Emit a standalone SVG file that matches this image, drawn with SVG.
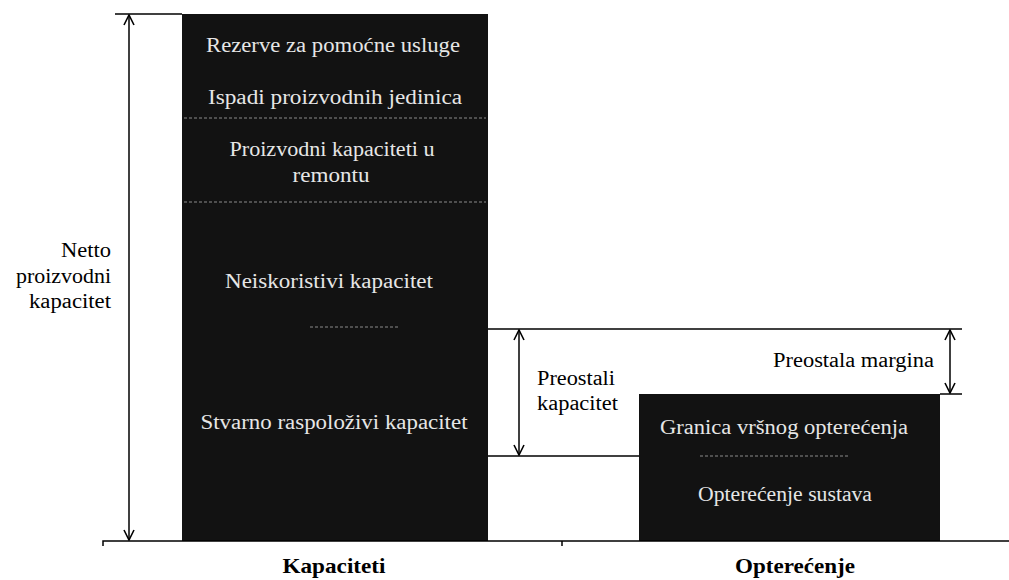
<svg xmlns="http://www.w3.org/2000/svg" width="1009" height="580" viewBox="0 0 1009 580">
<style>
.bar{fill:#121212}
.sep{stroke:#8a8a8a;stroke-width:1.2;stroke-dasharray:3 2;fill:none}
.in{font-family:"Liberation Serif",serif;font-size:20px;fill:#e6e6e6;text-anchor:middle}
.lbl{font-family:"Liberation Serif",serif;font-size:20px;fill:#000}
.ax{font-family:"Liberation Serif",serif;font-size:22px;font-weight:bold;fill:#000;text-anchor:middle}
.ln{stroke:#000;stroke-width:1.5;fill:none}
.arr{stroke:#000;stroke-width:1.5;fill:none;marker-start:url(#ah);marker-end:url(#ah)}
</style>
<defs>
<marker id="ah" viewBox="0 0 12 12" refX="11" refY="6" markerWidth="12" markerHeight="12" markerUnits="userSpaceOnUse" orient="auto-start-reverse">
<path d="M1,1 L11,6 L1,11" fill="none" stroke="#000" stroke-width="1.6"/>
</marker>
</defs>
<g id="capacity-bar">
<rect class="bar" x="182" y="14" width="306" height="527"/>
<line class="sep" x1="184" y1="118" x2="486" y2="118"/>
<line class="sep" x1="184" y1="202" x2="486" y2="202"/>
<line class="sep" x1="310" y1="327" x2="400" y2="327"/>
<text class="in" x="333" y="52" textLength="254" lengthAdjust="spacingAndGlyphs">Rezerve za pomoćne usluge</text>
<text class="in" x="335" y="104" textLength="254" lengthAdjust="spacingAndGlyphs">Ispadi proizvodnih jedinica</text>
<text class="in" x="332" y="156" textLength="205" lengthAdjust="spacingAndGlyphs">Proizvodni kapaciteti u</text>
<text class="in" x="331" y="182" textLength="77" lengthAdjust="spacingAndGlyphs">remontu</text>
<text class="in" x="329" y="288" textLength="208" lengthAdjust="spacingAndGlyphs">Neiskoristivi kapacitet</text>
<text class="in" x="334" y="429" textLength="267" lengthAdjust="spacingAndGlyphs">Stvarno raspoloživi kapacitet</text>
</g>
<g id="load-bar">
<rect class="bar" x="639" y="394" width="301" height="147"/>
<line class="sep" x1="700" y1="456" x2="850" y2="456"/>
<text class="in" x="784" y="434" textLength="248" lengthAdjust="spacingAndGlyphs">Granica vršnog opterećenja</text>
<text class="in" x="785" y="501" textLength="174" lengthAdjust="spacingAndGlyphs">Opterećenje sustava</text>
</g>
<g id="netto-label">
<text class="lbl" x="61" y="257" textLength="50" lengthAdjust="spacingAndGlyphs">Netto</text>
<text class="lbl" x="16" y="283" textLength="95" lengthAdjust="spacingAndGlyphs">proizvodni</text>
<text class="lbl" x="29" y="308" textLength="82" lengthAdjust="spacingAndGlyphs">kapacitet</text>
</g>
<g id="preostali-label">
<text class="lbl" x="537" y="385" textLength="78" lengthAdjust="spacingAndGlyphs">Preostali</text>
<text class="lbl" x="537" y="410" textLength="81" lengthAdjust="spacingAndGlyphs">kapacitet</text>
</g>
<g id="margina-label">
<text class="lbl" x="773" y="367" textLength="161" lengthAdjust="spacingAndGlyphs">Preostala margina</text>
</g>
<g id="axis-labels">
<text class="ax" x="334" y="573" textLength="103" lengthAdjust="spacingAndGlyphs">Kapaciteti</text>
<text class="ax" x="795" y="573" textLength="120" lengthAdjust="spacingAndGlyphs">Opterećenje</text>
</g>
<g id="connectors">
<path class="ln" d="M103,546 L103,541 L1009,541"/>
<line class="ln" x1="562" y1="541" x2="562" y2="546"/>
<line class="ln" x1="115" y1="14" x2="182" y2="14"/>
<line class="ln" x1="488" y1="329" x2="962" y2="329"/>
<line class="ln" x1="488" y1="456" x2="639" y2="456"/>
<line class="ln" x1="940" y1="394" x2="962" y2="394"/>
<line class="arr" x1="129" y1="15" x2="129" y2="540"/>
<line class="arr" x1="519" y1="330" x2="519" y2="455"/>
<line class="arr" x1="950" y1="330" x2="950" y2="393"/>
</g>
</svg>
